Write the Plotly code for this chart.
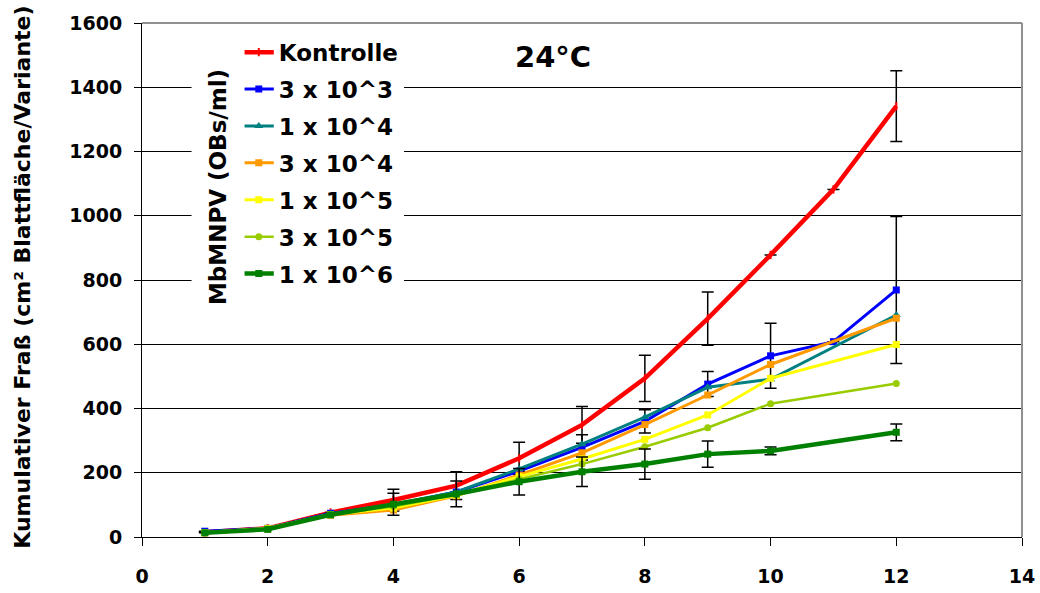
import plotly.graph_objects as go

# Days after treatment
days = [1, 2, 3, 4, 5, 6, 7, 8, 9, 10, 11, 12]

# Cumulative feeding (cm² leaf area per variant)
kontrolle = [15, 27, 76, 115, 160, 245, 349, 494, 680, 878, 1082, 1341]
dose_3e3 = [18, 27, 74, 100, 140, 205, 279, 360, 476, 564, 608, 769]
dose_1e4 = [15, 26, 72, 102, 140, 212, 289, 373, 466, 491, None, 691]
dose_3e4 = [13, 25, 68, 84, 128, 193, 262, 350, 442, 537, None, 681]
dose_1e5 = [14, 27, 70, 90, 130, 188, 243, 304, 380, 494, None, 599]
dose_3e5 = [13, 24, 70, 95, 132, 180, 227, 281, 340, 415, None, 478]
dose_1e6 = [13, 24, 69, 102, 134, 172, 203, 227, 258, 268, None, 326]

# Standard deviations (None = no error bar shown)
err_kontrolle = [None, None, None, 34, 43, 50, 57, 72, 83, None, None, 110]
err_3e3 = [None, None, None, None, None, None, 39, 36, 39, 101, None, 229]
err_1e6 = [None, None, None, 34, 40, 41, 46, 47, 41, 12, None, 26]

series = [
    ("Kontrolle", kontrolle, err_kontrolle, "#FF0000", 4.5, "line-ns-open", 6),
    ("3 x 10^3", dose_3e3, err_3e3, "#0000FF", 3, "square", 7),
    ("1 x 10^4", dose_1e4, None, "#008080", 3, "triangle-up", 8),
    ("3 x 10^4", dose_3e4, None, "#FF9900", 3, "square", 7),
    ("1 x 10^5", dose_1e5, None, "#FFFF00", 3, "square", 7),
    ("3 x 10^5", dose_3e5, None, "#99CC00", 2.5, "circle", 7),
    ("1 x 10^6", dose_1e6, err_1e6, "#008000", 4.5, "square", 7),
]

FONT = "DejaVu Sans"

fig = go.Figure()
for i, (name, vals, err, color, lw, sym, msize) in enumerate(series):
    kw = {}
    if err is not None:
        kw["error_y"] = dict(type="data", array=[e if e is not None else 0 for e in err],
                             visible=True, color="black", thickness=1.5, width=6)
    fig.add_trace(go.Scatter(
        x=days, y=vals, name=name, mode="lines+markers", connectgaps=True,
        legendgroup=f"g{i}",
        line=dict(color=color, width=lw),
        marker=dict(symbol=sym, size=msize, color=color,
                    line=dict(color=color, width=2 if sym == "line-ns-open" else 0)),
        **kw,
    ))

fig.update_layout(
    width=1040, height=593,
    margin=dict(l=142, r=18, t=23, b=56, autoexpand=False),
    paper_bgcolor="white", plot_bgcolor="white",
    font=dict(family=FONT, size=19, color="black", weight="bold"),
    showlegend=True,
    legend=dict(
        x=0.11, y=0.985, xanchor="left", yanchor="top",
        bgcolor="white", borderwidth=0,
        font=dict(family=FONT, size=23, color="black", weight="bold"),
        itemwidth=30, tracegroupgap=4,
    ),
    xaxis=dict(
        range=[0, 14], dtick=2, tick0=0, automargin=False,
        showgrid=False, zeroline=False,
        showline=True, linecolor="black", linewidth=1,
        ticks="outside", ticklen=8, tickcolor="black",
        ticklabelstandoff=14,
        tickfont=dict(family=FONT, size=19, color="black", weight="bold"),
    ),
    yaxis=dict(
        range=[0, 1600], dtick=200, tick0=0, automargin=False,
        showgrid=True, gridcolor="black", gridwidth=1, zeroline=False,
        showline=True, linecolor="black", linewidth=1,
        ticks="outside", ticklen=7, tickcolor="black",
        ticklabelstandoff=8,
        tickfont=dict(family=FONT, size=19, color="black", weight="bold"),
    ),
    shapes=[
        dict(type="line", xref="paper", yref="paper", x0=0, x1=1, y0=1, y1=1,
             line=dict(color="#909090", width=2), layer="above"),
        dict(type="line", xref="paper", yref="paper", x0=1, x1=1, y0=0, y1=1,
             line=dict(color="#909090", width=2), layer="above"),
    ],
    annotations=[
        # y-axis title
        dict(text="Kumulativer Fraß (cm² Blattfläche/Variante)",
             xref="paper", yref="paper", x=-0.136, y=0.505,
             xanchor="center", yanchor="middle", textangle=-90, showarrow=False,
             font=dict(family=FONT, size=22, color="black", weight="bold")),
        # legend heading, rotated beside the entries
        dict(text="MbMNPV (OBs/ml)", xref="paper", yref="paper",
             x=0.0864, y=0.681, xanchor="center", yanchor="middle",
             textangle=-90, showarrow=False,
             width=290, height=52, borderpad=0,
             font=dict(family=FONT, size=23, color="black", weight="bold"),
             bgcolor="white"),
        dict(text="24°C", xref="paper", yref="paper", x=0.467, y=0.934,
             xanchor="center", yanchor="middle", showarrow=False,
             font=dict(family=FONT, size=29, color="black", weight="bold")),
    ],
)

fig.write_html("out.html")
